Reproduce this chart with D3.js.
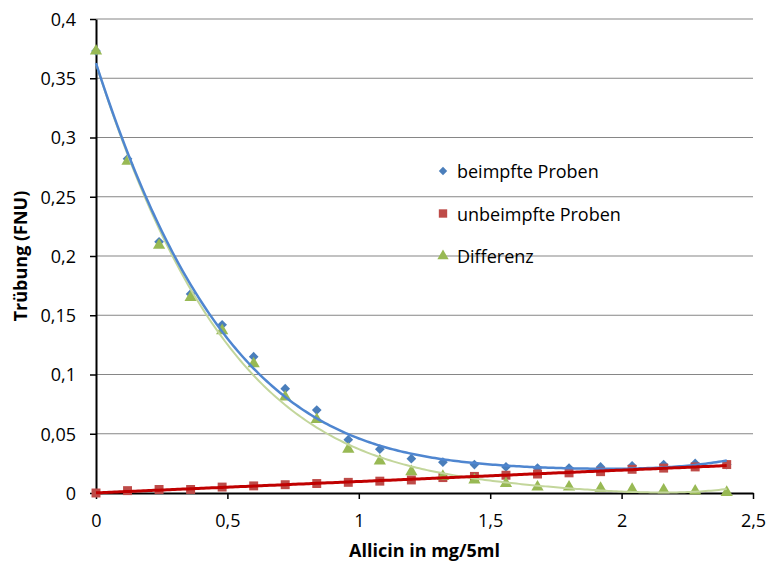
<!DOCTYPE html>
<html>
<head>
  <meta charset="UTF-8">
  <title>Trübung vs Allicin</title>
  <script src="https://d3js.org/d3.v7.min.js"></script>
  <style>
    body { margin: 0; background: #fff; }
    .chart text { font-family: "Open Sans", sans-serif; fill: #000; }
  </style>
</head>
<body>

<div class="chart"></div>

<script>

  // data
  var allicin = [0, 0.12, 0.24, 0.36, 0.48, 0.6, 0.72, 0.84, 0.96, 1.08, 1.2,
                 1.32, 1.44, 1.56, 1.68, 1.8, 1.92, 2.04, 2.16, 2.28, 2.4];
  var beimpft = [0.373, 0.282, 0.212, 0.168, 0.142, 0.115, 0.088, 0.070, 0.045, 0.037, 0.029,
                 0.026, 0.024, 0.022, 0.021, 0.021, 0.022, 0.023, 0.024, 0.025, 0.024];
  var unbeimpft = [0.000, 0.002, 0.003, 0.003, 0.005, 0.006, 0.007, 0.008, 0.009, 0.010, 0.011,
                   0.013, 0.014, 0.015, 0.016, 0.017, 0.018, 0.020, 0.021, 0.022, 0.024];
  var differenz = [0.373, 0.280, 0.209, 0.165, 0.137, 0.109, 0.081, 0.062, 0.037, 0.027, 0.018,
                   0.014, 0.011, 0.008, 0.005, 0.005, 0.004, 0.003, 0.0025, 0.0017, 0.0005];
  var xTicks = [0, 0.5, 1, 1.5, 2, 2.5];
  var yTicks = [0, 0.05, 0.1, 0.15, 0.2, 0.25, 0.3, 0.35, 0.4];
  var seriesNames = ['beimpfte Proben', 'unbeimpfte Proben', 'Differenz'];

  var margin = { top: 19, right: 18, bottom: 69, left: 96 };
  var width = 771 - margin.left - margin.right;
  var height = 562 - margin.top - margin.bottom;

  var svg = d3.select('.chart')
    .append('svg')
      .attr('width', 771)
      .attr('height', 562)
    .append('g')
      .attr('transform', 'translate(' + margin.left + ', ' + margin.top + ')');

  var xScale = d3.scaleLinear().domain([0, 2.5]).range([0, width]);
  var yScale = d3.scaleLinear().domain([0, 0.4]).range([height, 0]);
  var fmt = d => String(d).replace('.', ',');

  // gridlines
  svg.append('g')
    .selectAll('line')
    .data(yTicks.slice(1))
    .enter()
    .append('line')
      .attr('x1', 0).attr('x2', width)
      .attr('y1', d => yScale(d)).attr('y2', d => yScale(d))
      .style('stroke', '#868686').style('stroke-width', 1.2);

  // y axis
  var yAxis = d3.axisLeft(yScale).tickValues(yTicks).tickFormat(fmt).tickSizeInner(6).tickSizeOuter(0).tickPadding(14);
  var gy = svg.append('g').call(yAxis);
  gy.select('.domain').style('stroke', '#000').style('stroke-width', 2);
  gy.selectAll('.tick line').style('stroke', '#000').style('stroke-width', 1.5);
  gy.selectAll('text').style('font-size', '18px').style('font-family', '"Open Sans", sans-serif').attr('dy', '0.36em');

  // x axis
  var xAxis = d3.axisBottom(xScale).tickValues(xTicks).tickFormat(fmt).tickSizeInner(6).tickSizeOuter(0).tickPadding(15);
  var gx = svg.append('g').attr('transform', `translate(0, ${height})`).call(xAxis);
  gx.select('.domain').style('stroke', '#000').style('stroke-width', 2);
  gx.selectAll('.tick line').style('stroke', '#000').style('stroke-width', 1.5);
  gx.selectAll('text').style('font-size', '18px').style('font-family', '"Open Sans", sans-serif');

  // least squares polynomial fit (trendlines)
  function polyfit(xs, ys, deg) {
    var n = deg + 1;
    var A = [];
    for (var i = 0; i < n; i++) {
      A.push([]);
      for (var j = 0; j <= n; j++) A[i].push(0);
    }
    xs.forEach((x, k) => {
      for (var i = 0; i < n; i++) {
        for (var j = 0; j < n; j++) A[i][j] += Math.pow(x, i + j);
        A[i][n] += ys[k] * Math.pow(x, i);
      }
    });
    for (var c = 0; c < n; c++) {
      var p = c;
      for (var r = c + 1; r < n; r++) if (Math.abs(A[r][c]) > Math.abs(A[p][c])) p = r;
      var tmp = A[c]; A[c] = A[p]; A[p] = tmp;
      for (var r2 = 0; r2 < n; r2++) {
        if (r2 === c) continue;
        var f = A[r2][c] / A[c][c];
        for (var j2 = c; j2 <= n; j2++) A[r2][j2] -= f * A[c][j2];
      }
    }
    var coef = A.map((row, i) => row[n] / row[i]);
    return x => coef.reduce((s, a, i) => s + a * Math.pow(x, i), 0);
  }

  var xs = d3.range(0, 2.4001, 0.01);
  var line = d3.line().x(d => xScale(d[0])).y(d => yScale(d[1]));

  var fitGreen = polyfit(allicin, differenz, 4);
  var fitBlue = polyfit(allicin, beimpft, 4);
  var fitRed = polyfit(allicin, unbeimpft, 1);

  // markers
  var sym = d3.symbol();
  function drawPoints(vals, type, size, color) {
    svg.append('g')
      .selectAll('path')
      .data(vals)
      .enter()
      .append('path')
        .attr('transform', (d, i) => `translate(${xScale(allicin[i])}, ${yScale(d)})`)
        .attr('d', sym.type(type).size(size)())
        .style('fill', color);
  }

  drawPoints(beimpft, d3.symbolDiamond2, 60, '#4a7ebb');
  drawPoints(unbeimpft, d3.symbolSquare, 80, '#be4b48');
  drawPoints(differenz, d3.symbolTriangle, 65, '#98b954');

  svg.append('path')
    .attr('d', line(xs.map(x => [x, fitGreen(x)])))
    .style('fill', 'none').style('stroke', '#c3d69b').style('stroke-width', 2);
  svg.append('path')
    .attr('d', line(xs.map(x => [x, fitBlue(x)])))
    .style('fill', 'none').style('stroke', '#4f86d0').style('stroke-width', 2.5);
  svg.append('path')
    .attr('d', line(xs.map(x => [x, fitRed(x)])))
    .style('fill', 'none').style('stroke', '#c00000').style('stroke-width', 3);

  // legend
  var legend = svg.append('g').attr('transform', 'translate(347, 152)');
  var legendTypes = [d3.symbolDiamond2, d3.symbolSquare, d3.symbolTriangle];
  var legendSizes = [45, 70, 55];
  var legendColors = ['#4a7ebb', '#be4b48', '#98b954'];
  seriesNames.forEach((name, i) => {
    var g = legend.append('g').attr('transform', `translate(0, ${i * 42.5})`);
    g.append('path')
      .attr('d', sym.type(legendTypes[i]).size(legendSizes[i])())
      .style('fill', legendColors[i]);
    g.append('text')
      .attr('x', 14).attr('y', 7)
      .style('font-size', '18px')
      .text(name);
  });

  // axis titles
  svg.append('text')
    .attr('x', width / 2).attr('y', height + 64)
    .style('text-anchor', 'middle').style('font-size', '18px').style('font-weight', 'bold')
    .text('Allicin in mg/5ml');
  svg.append('text')
    .attr('transform', `translate(-69, ${height / 2}) rotate(-90)`)
    .style('text-anchor', 'middle').style('font-size', '18px').style('font-weight', 'bold')
    .text('Trübung (FNU)');

</script>

</body>
</html>
